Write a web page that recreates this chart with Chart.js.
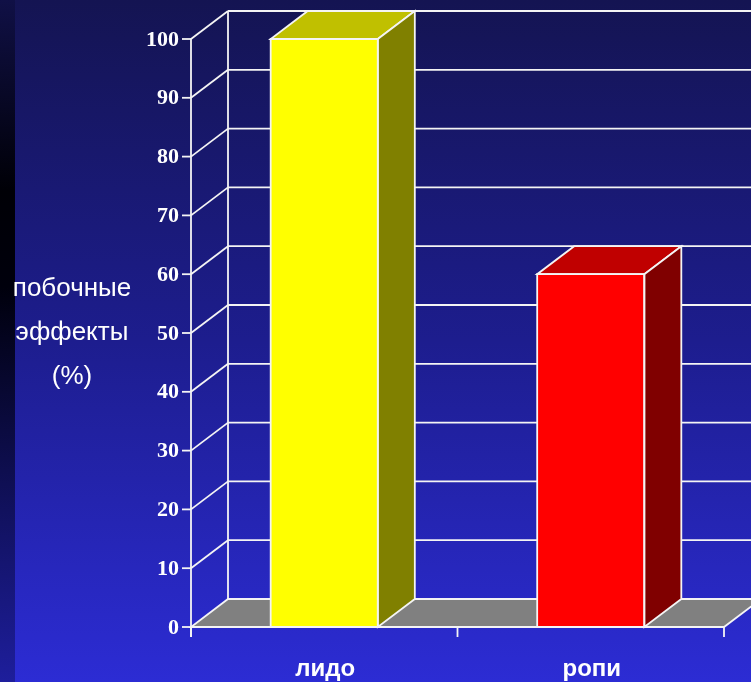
<!DOCTYPE html>
<html>
<head>
<meta charset="utf-8">
<script src="https://cdn.jsdelivr.net/npm/chart.js@4.4.1/dist/chart.umd.min.js"></script>
<style>
html,body{margin:0;padding:0;background:#1d1d8c;overflow:hidden;}
canvas{display:block;}
</style>
</head>
<body>
<canvas id="c" width="751" height="682"></canvas>
<script>
const categories = ['лидо', 'ропи'];
const values = [100, 60];
const yTicks = [0, 10, 20, 30, 40, 50, 60, 70, 80, 90, 100];
const axisTitleLines = ['побочные', 'эффекты', '(%)'];
const faceColors = ['#FFFF00', '#FF0000'];
const topColors = ['#C0C000', '#C00000'];
const sideColors = ['#808000', '#800000'];

const DX = 37, DY = -28;
const EDGE = '#F4F4F4';

function poly(ctx, pts, fill) {
  ctx.beginPath();
  ctx.moveTo(pts[0][0], pts[0][1]);
  for (let i = 1; i < pts.length; i++) ctx.lineTo(pts[i][0], pts[i][1]);
  ctx.closePath();
  if (fill) { ctx.fillStyle = fill; ctx.fill(); }
  ctx.strokeStyle = EDGE; ctx.lineWidth = 1.8; ctx.stroke();
}
function line(ctx, x1, y1, x2, y2) {
  ctx.beginPath(); ctx.moveTo(x1, y1); ctx.lineTo(x2, y2);
  ctx.strokeStyle = EDGE; ctx.lineWidth = 1.8; ctx.stroke();
}

const plugin3d = {
  id: 'plugin3d',
  beforeDraw(chart) {
    const ctx = chart.ctx, W = chart.width, H = chart.height;
    const g = ctx.createLinearGradient(0, 0, 0, H);
    g.addColorStop(0, '#141452');
    g.addColorStop(0.5, '#1d1d8e');
    g.addColorStop(1, '#2c2cd4');
    ctx.save();
    ctx.fillStyle = g; ctx.fillRect(0, 0, W, H);
    const s = ctx.createLinearGradient(0, 0, 0, H);
    s.addColorStop(0, '#101046');
    s.addColorStop(0.28, '#000006');
    s.addColorStop(0.42, '#00000c');
    s.addColorStop(1, '#1e1e9c');
    ctx.fillStyle = s; ctx.fillRect(0, 0, 15, H);
    ctx.restore();
  },
  beforeDatasetsDraw(chart) {
    const ctx = chart.ctx, xs = chart.scales.x, ys = chart.scales.y;
    const L = xs.getPixelForValue(-0.5), R = xs.getPixelForValue(categories.length - 0.5);
    const B = ys.getPixelForValue(0), T = ys.getPixelForValue(100);
    ctx.save();
    yTicks.forEach(v => {
      const y = ys.getPixelForValue(v);
      if (v > 0) {
        line(ctx, L, y, L + DX, y + DY);
        line(ctx, L + DX, y + DY, chart.width + 20, y + DY);
      }
    });
    line(ctx, L + DX, B + DY, L + DX, T + DY);
    poly(ctx, [[L, B], [R, B], [R + DX, B + DY], [L + DX, B + DY]], '#808080');
    line(ctx, L, T, L, B + 10);
    yTicks.forEach(v => {
      const y = ys.getPixelForValue(v);
      line(ctx, L - 9, y, L, y);
    });
    line(ctx, L, B, R, B);
    for (let i = 0; i <= categories.length; i++) {
      const x = xs.getPixelForValue(i - 0.5);
      line(ctx, x, B, x, B + 10);
    }
    ctx.fillStyle = '#ffffff';
    ctx.font = 'bold 22px "Liberation Serif", "Times New Roman", serif';
    ctx.textAlign = 'right'; ctx.textBaseline = 'middle';
    yTicks.forEach(v => {
      ctx.fillText(String(v), L - 12, ys.getPixelForValue(v) + 1);
    });
    ctx.font = 'bold 24px "Liberation Sans", Arial, sans-serif';
    ctx.textAlign = 'center'; ctx.textBaseline = 'middle';
    categories.forEach((c, i) => {
      ctx.fillText(c, xs.getPixelForValue(i) + 1, B + 42);
    });
    ctx.font = '26px "Liberation Sans", Arial, sans-serif';
    axisTitleLines.forEach((t, i) => {
      ctx.fillText(t, 72, 289 + i * 44);
    });
    ctx.restore();
  },
  afterDatasetsDraw(chart) {
    const ctx = chart.ctx;
    const meta = chart.getDatasetMeta(0);
    ctx.save();
    meta.data.forEach((bar, i) => {
      const p = bar.getProps(['x', 'y', 'base', 'width'], true);
      const l = p.x - p.width / 2, r = p.x + p.width / 2;
      poly(ctx, [[l, p.y], [r, p.y], [r + DX, p.y + DY], [l + DX, p.y + DY]], topColors[i]);
      poly(ctx, [[r, p.y], [r + DX, p.y + DY], [r + DX, p.base + DY], [r, p.base]], sideColors[i]);
      poly(ctx, [[l, p.y], [r, p.y], [r, p.base], [l, p.base]], null);
    });
    ctx.restore();
  }
};

new Chart(document.getElementById('c'), {
  type: 'bar',
  data: {
    labels: categories,
    datasets: [{
      data: values,
      backgroundColor: faceColors,
      borderWidth: 0,
      barPercentage: 0.402,
      categoryPercentage: 1
    }]
  },
  options: {
    responsive: false,
    animation: false,
    devicePixelRatio: 1,
    layout: { padding: { left: 191, right: 27, top: 39, bottom: 55 } },
    plugins: { legend: { display: false }, tooltip: { enabled: false } },
    scales: {
      x: { display: false, offset: true },
      y: { display: false, min: 0, max: 100, ticks: { stepSize: 10 } }
    }
  },
  plugins: [plugin3d]
});
</script>
</body>
</html>
